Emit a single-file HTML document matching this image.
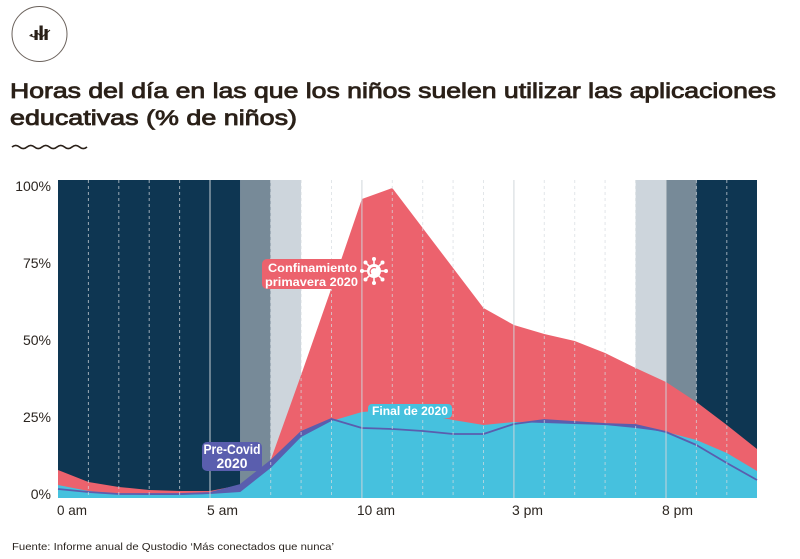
<!DOCTYPE html>
<html><head><meta charset="utf-8"><style>
html,body{margin:0;padding:0;background:#fff;}
svg{display:block;}
text{font-family:"Liberation Sans",sans-serif;}
</style></head><body>
<svg width="800" height="559" viewBox="0 0 800 559" xmlns="http://www.w3.org/2000/svg">
<!-- icon -->
<circle cx="39.5" cy="34" r="27.5" fill="none" stroke="#6b625c" stroke-width="1"/>
<g fill="#2a2018">
<rect x="34.5" y="30" width="3.2" height="10"/>
<rect x="39.5" y="25.5" width="3.2" height="14.5"/>
<rect x="44.5" y="29" width="3.2" height="11"/>
<circle cx="31.5" cy="35" r="1.1"/>
</g>
<path d="M29.5 35.5 L34 37 L38 33.5 L42 37 L50 30" fill="none" stroke="#2a2018" stroke-width="1.1"/>
<!-- title -->
<g fill="#2a2018" stroke="#2a2018" stroke-width="0.8">
<text x="10" y="98" font-size="21.5" textLength="766" lengthAdjust="spacingAndGlyphs">Horas del día en las que los niños suelen utilizar las aplicaciones</text>
<text x="10" y="125" font-size="21.5" textLength="287" lengthAdjust="spacingAndGlyphs">educativas (% de niños)</text>
</g>
<path d="M12 147 q3.75 -3.2 7.5 0 t7.5 0 t7.5 0 t7.5 0 t7.5 0 t7.5 0 t7.5 0 t7.5 0 t7.5 0 t7.5 0" fill="none" stroke="#2a2018" stroke-width="1.6"/>
<!-- bands -->
<rect x="58" y="180" width="182.3" height="318" fill="#0e3652"/>
<rect x="240.3" y="180" width="30.4" height="318" fill="#778a98"/>
<rect x="270.7" y="180" width="30.4" height="318" fill="#cdd5dc"/>
<rect x="635.6" y="180" width="30.4" height="318" fill="#cdd5dc"/>
<rect x="666" y="180" width="30.4" height="318" fill="#778a98"/>
<rect x="696.4" y="180" width="60.6" height="318" fill="#0e3652"/>
<!-- red area -->
<polygon fill="#ec626d" points="58,498 58,470 88.4,482 118.8,487 149.2,490 179.6,491 210,491 240.3,485 270.7,460 301.1,375 331.5,288 361.9,199 392.3,188 422.7,228 453.1,268 483.5,308 513.9,325 544.3,334 574.7,341 605.1,353 635.6,368 666,382 696.4,402 726.8,425 757,449 757,498"/>
<!-- purple area -->
<polygon fill="#5a5eae" points="58,498 58,489 88.4,492 118.8,494 149.2,494 179.6,494 210,493 240.3,485 270.7,461 301.1,432 331.5,419 361.9,428 392.3,429 422.7,431 453.1,434 483.5,434 513.9,424 544.3,420 574.7,422 605.1,424 635.6,425 666,432 696.4,445 726.8,463 757,480 757,498"/>
<!-- cyan area -->
<polygon fill="#46c1de" points="58,498 58,485 88.4,491 118.8,494 149.2,495 179.6,495 210,494 240.3,492 270.7,468 301.1,437 331.5,421 361.9,412 392.3,410 422.7,414 453.1,420 483.5,425 513.9,422 544.3,423 574.7,424 605.1,425 635.6,428 666,432 696.4,440 726.8,453 757,471 757,498"/>
<!-- purple line -->
<polyline fill="none" stroke="#5a5eae" stroke-width="1.8" stroke-linejoin="round" points="58,489 88.4,492 118.8,494 149.2,494 179.6,494 210,493 240.3,485 270.7,461 301.1,432 331.5,419 361.9,428 392.3,429 422.7,431 453.1,434 483.5,434 513.9,424 544.3,420 574.7,422 605.1,424 635.6,425 666,432 696.4,445 726.8,463 757,480"/>
<!-- grid lines -->
<g stroke="#d6dbe0" stroke-opacity="0.7" stroke-width="1" stroke-dasharray="3 3">
<line x1="88.4" y1="180" x2="88.4" y2="498"/>
<line x1="118.8" y1="180" x2="118.8" y2="498"/>
<line x1="149.2" y1="180" x2="149.2" y2="498"/>
<line x1="179.6" y1="180" x2="179.6" y2="498"/>
<line x1="270.7" y1="180" x2="270.7" y2="498"/>
<line x1="301.1" y1="180" x2="301.1" y2="498"/>
<line x1="331.5" y1="180" x2="331.5" y2="498"/>
<line x1="392.3" y1="180" x2="392.3" y2="498"/>
<line x1="422.7" y1="180" x2="422.7" y2="498"/>
<line x1="453.1" y1="180" x2="453.1" y2="498"/>
<line x1="483.5" y1="180" x2="483.5" y2="498"/>
<line x1="544.3" y1="180" x2="544.3" y2="498"/>
<line x1="574.7" y1="180" x2="574.7" y2="498"/>
<line x1="605.1" y1="180" x2="605.1" y2="498"/>
<line x1="635.6" y1="180" x2="635.6" y2="498"/>
<line x1="696.4" y1="180" x2="696.4" y2="498"/>
<line x1="726.8" y1="180" x2="726.8" y2="498"/>
</g>
<g stroke="#d0d5da" stroke-opacity="0.8" stroke-width="1.2">
<line x1="210" y1="180" x2="210" y2="498"/>
<line x1="361.9" y1="180" x2="361.9" y2="498"/>
<line x1="513.9" y1="180" x2="513.9" y2="498"/>
<line x1="666" y1="180" x2="666" y2="498"/>
</g>
<!-- y labels -->
<g fill="#2b2520" font-size="14" text-anchor="end">
<text x="51" y="191">100%</text>
<text x="51" y="268">75%</text>
<text x="51" y="345">50%</text>
<text x="51" y="422">25%</text>
<text x="51" y="499">0%</text>
</g>
<!-- x labels -->
<g fill="#2b2520" font-size="14">
<text x="57" y="515" textLength="30" lengthAdjust="spacingAndGlyphs">0 am</text>
<text x="207" y="515" textLength="31" lengthAdjust="spacingAndGlyphs">5 am</text>
<text x="357" y="515" textLength="38" lengthAdjust="spacingAndGlyphs">10 am</text>
<text x="512" y="515" textLength="31" lengthAdjust="spacingAndGlyphs">3 pm</text>
<text x="662" y="515" textLength="31" lengthAdjust="spacingAndGlyphs">8 pm</text>
</g>
<text x="12" y="550" font-size="10.5" fill="#2b2520" textLength="322" lengthAdjust="spacingAndGlyphs">Fuente: Informe anual de Qustodio ‘Más conectados que nunca’</text>
<!-- annotations -->
<rect x="262" y="259" width="98" height="30" rx="5" fill="#ec626d"/>
<g fill="#fff" font-weight="bold" font-size="11.5">
<text x="268" y="272" textLength="89" lengthAdjust="spacingAndGlyphs">Confinamiento</text>
<text x="265" y="286" textLength="93" lengthAdjust="spacingAndGlyphs">primavera 2020</text>
</g>
<g transform="translate(374,271)" fill="#fff" stroke="#fff">
<circle r="7" stroke="none"/>
<g stroke-width="1.6">
<line x1="0" y1="0" x2="0" y2="-11"/><line x1="0" y1="0" x2="0" y2="11"/>
<line x1="0" y1="0" x2="-11" y2="0"/><line x1="0" y1="0" x2="11" y2="0"/>
<line x1="0" y1="0" x2="7.8" y2="7.8"/><line x1="0" y1="0" x2="-7.8" y2="-7.8"/>
<line x1="0" y1="0" x2="7.8" y2="-7.8"/><line x1="0" y1="0" x2="-7.8" y2="7.8"/>
</g>
<g stroke="none">
<circle cx="0" cy="-12" r="2"/><circle cx="0" cy="12" r="2"/>
<circle cx="-12" cy="0" r="2"/><circle cx="12" cy="0" r="2"/>
<circle cx="8.5" cy="8.5" r="2"/><circle cx="-8.5" cy="-8.5" r="2"/>
<circle cx="8.5" cy="-8.5" r="2"/><circle cx="-8.5" cy="8.5" r="2"/>
</g>
<path d="M-3 3 A4 4 0 0 1 2 -3" fill="none" stroke="#ec626d" stroke-width="1.2"/>
</g>
<rect x="202" y="442" width="60" height="29" rx="5" fill="#5a5eae"/>
<g fill="#fff" font-weight="bold" font-size="13.5" text-anchor="middle">
<text x="232" y="454" textLength="57" lengthAdjust="spacingAndGlyphs">Pre-Covid</text>
<text x="232" y="468" textLength="31" lengthAdjust="spacingAndGlyphs">2020</text>
</g>
<rect x="368" y="404" width="84" height="14" rx="4" fill="#46c1de"/>
<text x="372" y="415" fill="#fff" font-weight="bold" font-size="12" textLength="76" lengthAdjust="spacingAndGlyphs">Final de 2020</text>
</svg>
</body></html>
